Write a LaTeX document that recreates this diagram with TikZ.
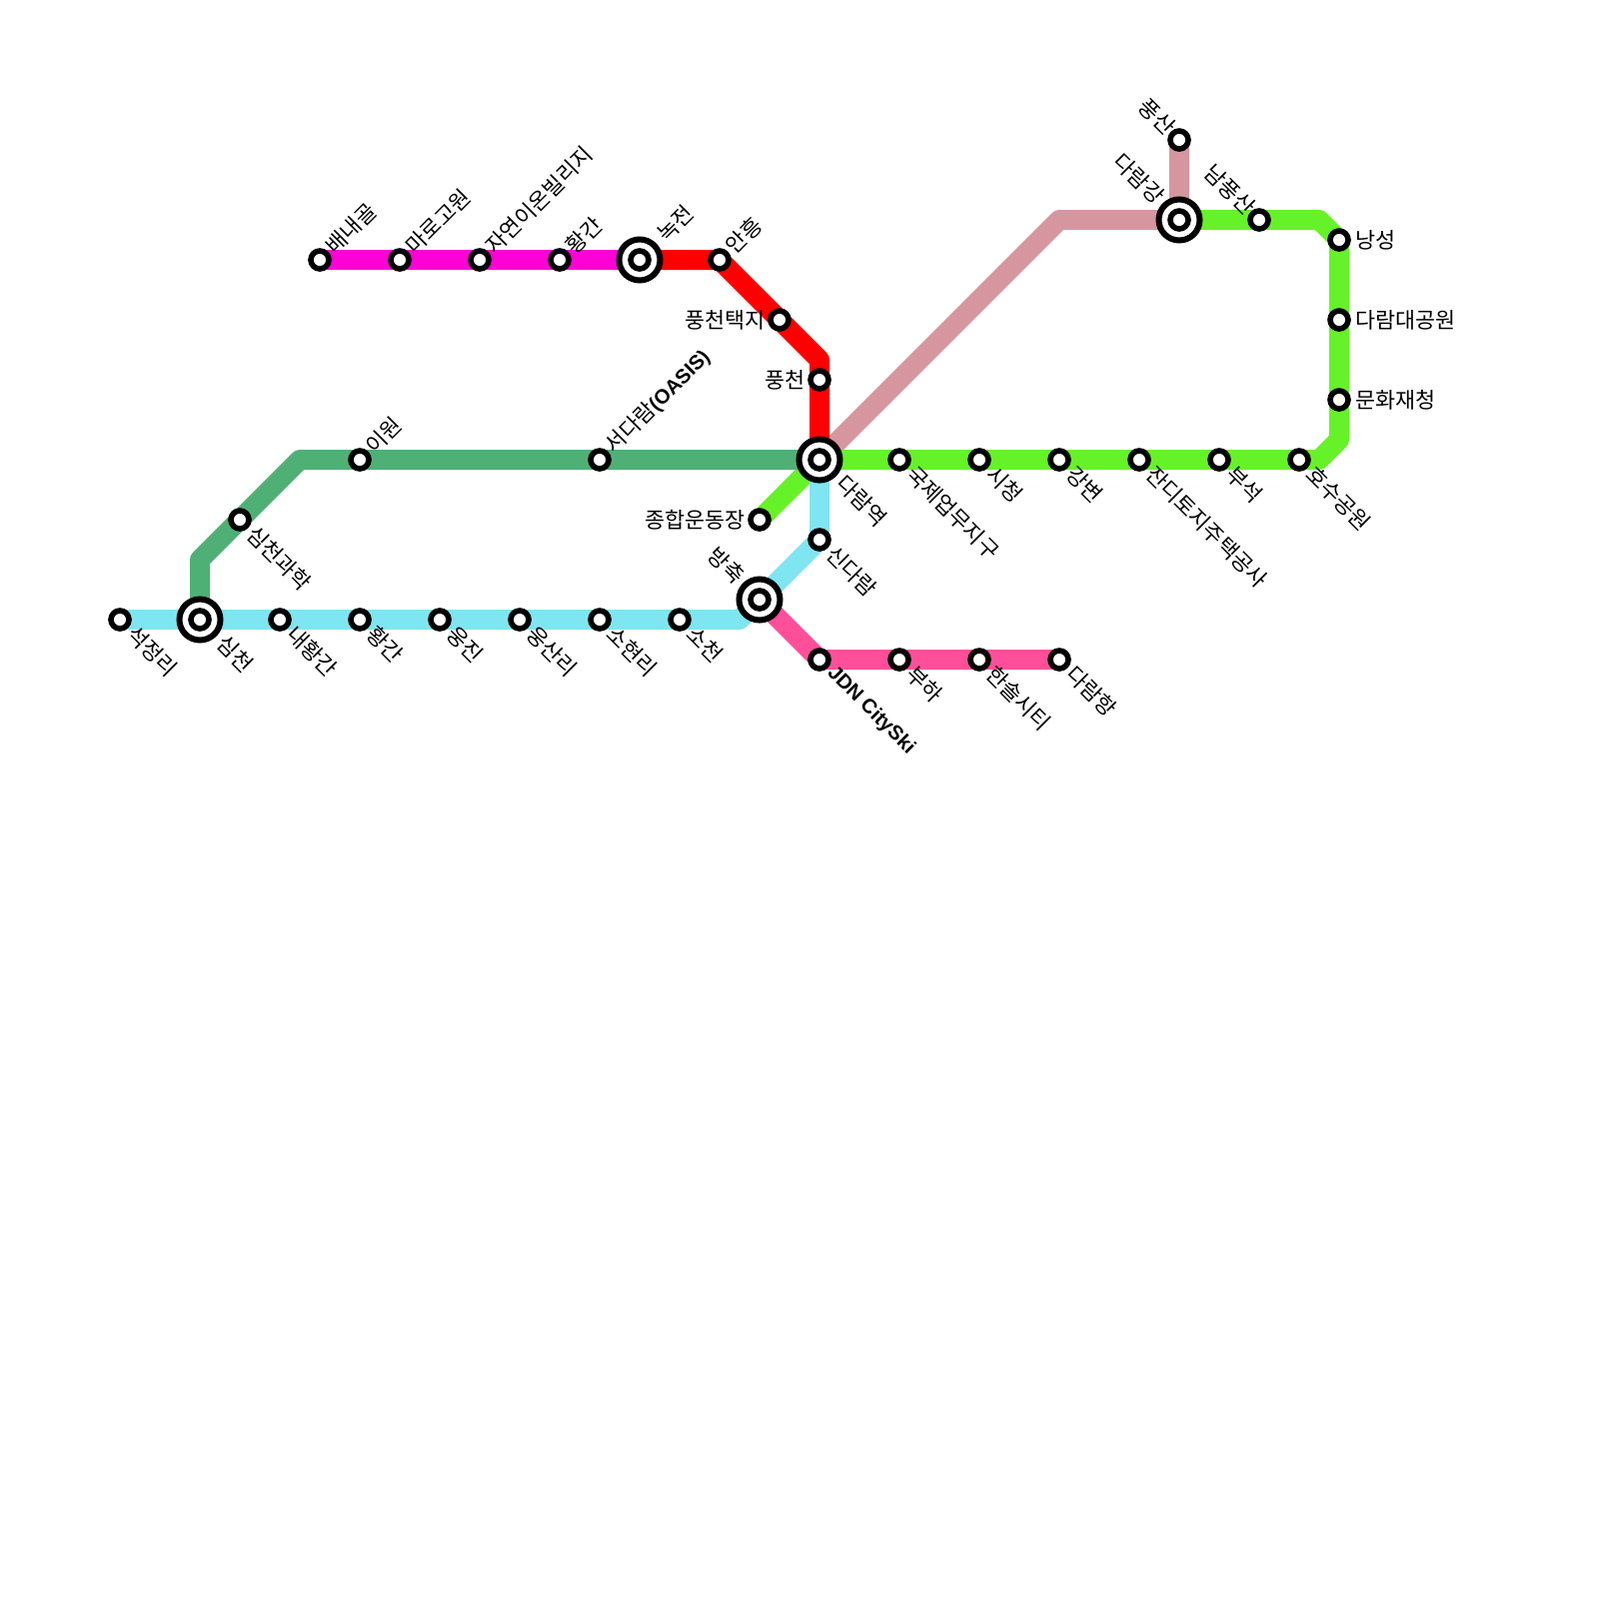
\documentclass[tikz,border=0pt]{standalone}
\usepackage{fontspec}
\setmainfont{Noto Sans CJK KR}
\newfontfamily\latinfont{Liberation Sans}
\newcommand{\boldlatin}[1]{{\latinfont\bfseries\fontsize{5.75}{7}\selectfont #1}}
\usetikzlibrary{backgrounds}
\definecolor{linemagenta}{HTML}{FF00D6}
\definecolor{linered}{HTML}{FF0000}
\definecolor{lineforest}{HTML}{4FB076}
\definecolor{linecyan}{HTML}{7FE5F1}
\definecolor{linelime}{HTML}{66F229}
\definecolor{linerose}{HTML}{D596A0}
\definecolor{linepink}{HTML}{FF4F9B}
\tikzset{
  metro/.style={line width=2mm,line join=round},
  station/.style={circle,draw=black,fill=white,line width=0.56mm,minimum size=1.8mm,inner sep=0pt,outer sep=0pt},
  hub/.style={circle,draw=black,fill=white,line width=0.6mm,minimum size=4.1mm,inner sep=0pt,outer sep=0pt},
  stationtext/.style={inner sep=0pt,outer sep=0pt,text=black,font=\fontsize{6.2}{7}\selectfont},
  lbldown/.style={stationtext,shift={(11,10.5)},rotate=-45,anchor=west},
  lbldownhub/.style={stationtext,shift={(21,20)},rotate=-45,anchor=west},
  lblup/.style={stationtext,shift={(10,-10)},rotate=45,anchor=west},
  lbluphub/.style={stationtext,shift={(22,-22)},rotate=45,anchor=west},
  lbltopleft/.style={stationtext,shift={(-8,-9)},rotate=-45,anchor=east},
  lbltoplefthub/.style={stationtext,shift={(-19,-20)},rotate=-45,anchor=east},
  lblleft/.style={stationtext,shift={(-14,0)},anchor=east},
  lblright/.style={stationtext,shift={(16,0)},anchor=west},
}
\begin{document}
\begin{tikzpicture}[x=0.1mm,y=-0.1mm]
\useasboundingbox (0,0) rectangle (1600,1600);
% hubs
\node (nokjeonH) [hub] at (640,260) {};
\node (darammH) [hub] at (820,460) {};
\node (simcheonH) [hub] at (200,620) {};
\node (bangchukH) [hub] at (760,600) {};
\node (daramgangH) [hub] at (1180,220) {};
% stations
\node (baenaegol) [station] at (320,260) {};
\node (marogowon) [station] at (400,260) {};
\node (jayeon) [station] at (480,260) {};
\node (hwanggan) [station] at (560,260) {};
\node (nokjeon) [station] at (640,260) {};
\node (anheung) [station] at (720,260) {};
\node (taekji) [station] at (780,320) {};
\node (pungcheon) [station] at (820,380) {};
\node (daramm) [station] at (820,460) {};
\node (iwon) [station] at (360,460) {};
\node (seodaram) [station] at (600,460) {};
\node (gwahak) [station] at (240,520) {};
\node (stadium) [station] at (760,520) {};
\node (sindaram) [station] at (820,540) {};
\node (seokjeong) [station] at (120,620) {};
\node (simcheon) [station] at (200,620) {};
\node (naehwang) [station] at (280,620) {};
\node (hwanggan2) [station] at (360,620) {};
\node (ungjin) [station] at (440,620) {};
\node (ungsan) [station] at (520,620) {};
\node (sohyeon) [station] at (600,620) {};
\node (socheon) [station] at (680,620) {};
\node (bangchuk) [station] at (760,600) {};
\node (jdn) [station] at (820,660) {};
\node (buha) [station] at (900,660) {};
\node (hansol) [station] at (980,660) {};
\node (daramhang) [station] at (1060,660) {};
\node (gukje) [station] at (900,460) {};
\node (sicheong) [station] at (980,460) {};
\node (gangbyeon) [station] at (1060,460) {};
\node (jandi) [station] at (1140,460) {};
\node (buseok) [station] at (1220,460) {};
\node (hosu) [station] at (1300,460) {};
\node (munhwa) [station] at (1340,400) {};
\node (park) [station] at (1340,320) {};
\node (nangseong) [station] at (1340,240) {};
\node (nampung) [station] at (1260,220) {};
\node (daramgang) [station] at (1180,220) {};
\node (pungsan) [station] at (1180,140) {};
% bends
\coordinate (redbend) at (820,360);
\coordinate (forestbendA) at (200,560);
\coordinate (forestbendB) at (300,460);
\coordinate (cyanbend) at (740,620);
\coordinate (limebendA) at (1320,460);
\coordinate (limebendB) at (1340,440);
\coordinate (limebendC) at (1320,220);
\coordinate (rosebend) at (1060,220);
\begin{scope}[on background layer]
\draw[metro,linerose] (daramm.center) -- (rosebend) -- (daramgang.center) -- (pungsan.center);
\draw[metro,linelime] (stadium.center) -- (daramm.center) -- (hosu.center) -- (limebendA) -- (limebendB) -- (nangseong.center) -- (limebendC) -- (daramgang.center);
\draw[metro,linecyan] (seokjeong.center) -- (cyanbend) -- (bangchuk.center) -- (sindaram.center) -- (daramm.center);
\draw[metro,linepink] (bangchuk.center) -- (jdn.center) -- (daramhang.center);
\draw[metro,lineforest] (simcheon.center) -- (forestbendA) -- (forestbendB) -- (daramm.center);
\draw[metro,linemagenta] (baenaegol.center) -- (nokjeon.center);
\draw[metro,linered] (nokjeon.center) -- (anheung.center) -- (redbend) -- (daramm.center);
\end{scope}
% labels
\node (baenaegolT) [lblup] at (baenaegol) {배내골};
\node (marogowonT) [lblup] at (marogowon) {마로고원};
\node (jayeonT) [lblup] at (jayeon) {자연이온빌리지};
\node (hwangganT) [lblup] at (hwanggan) {황간};
\node (nokjeonT) [lbluphub] at (nokjeon) {녹전};
\node (anheungT) [lblup] at (anheung) {안흥};
\node (taekjiT) [lblleft] at (taekji) {풍천택지};
\node (pungcheonT) [lblleft] at (pungcheon) {풍천};
\node (iwonT) [lblup] at (iwon) {이원};
\node (seodaramT) [lblup] at (seodaram) {서다람\boldlatin{(OASIS)}};
\node (gwahakT) [lbldown] at (gwahak) {심천과학};
\node (stadiumT) [lblleft] at (stadium) {종합운동장};
\node (sindaramT) [lbldown] at (sindaram) {신다람};
\node (darammT) [lbldownhub] at (daramm) {다람역};
\node (seokjeongT) [lbldown] at (seokjeong) {석정리};
\node (simcheonT) [lbldownhub] at (simcheon) {심천};
\node (naehwangT) [lbldown] at (naehwang) {내황간};
\node (hwanggan2T) [lbldown] at (hwanggan2) {황간};
\node (ungjinT) [lbldown] at (ungjin) {웅진};
\node (ungsanT) [lbldown] at (ungsan) {웅산리};
\node (sohyeonT) [lbldown] at (sohyeon) {소현리};
\node (socheonT) [lbldown] at (socheon) {소천};
\node (bangchukT) [lbltoplefthub] at (bangchuk) {방축};
\node (jdnT) [lbldown] at (jdn) {\boldlatin{JDN CitySki}};
\node (buhaT) [lbldown] at (buha) {부하};
\node (hansolT) [lbldown] at (hansol) {한솔시티};
\node (daramhangT) [lbldown] at (daramhang) {다람항};
\node (gukjeT) [lbldown] at (gukje) {국제업무지구};
\node (sicheongT) [lbldown] at (sicheong) {시청};
\node (gangbyeonT) [lbldown] at (gangbyeon) {강변};
\node (jandiT) [lbldown] at (jandi) {잔디토지주택공사};
\node (buseokT) [lbldown] at (buseok) {부석};
\node (hosuT) [lbldown] at (hosu) {호수공원};
\node (munhwaT) [lblright] at (munhwa) {문화재청};
\node (parkT) [lblright] at (park) {다람대공원};
\node (nangseongT) [lblright] at (nangseong) {낭성};
\node (nampungT) [lbltopleft] at (nampung) {남풍산};
\node (daramgangT) [lbltoplefthub] at (daramgang) {다람강};
\node (pungsanT) [lbltopleft] at (pungsan) {풍산};
\end{tikzpicture}
\end{document}
